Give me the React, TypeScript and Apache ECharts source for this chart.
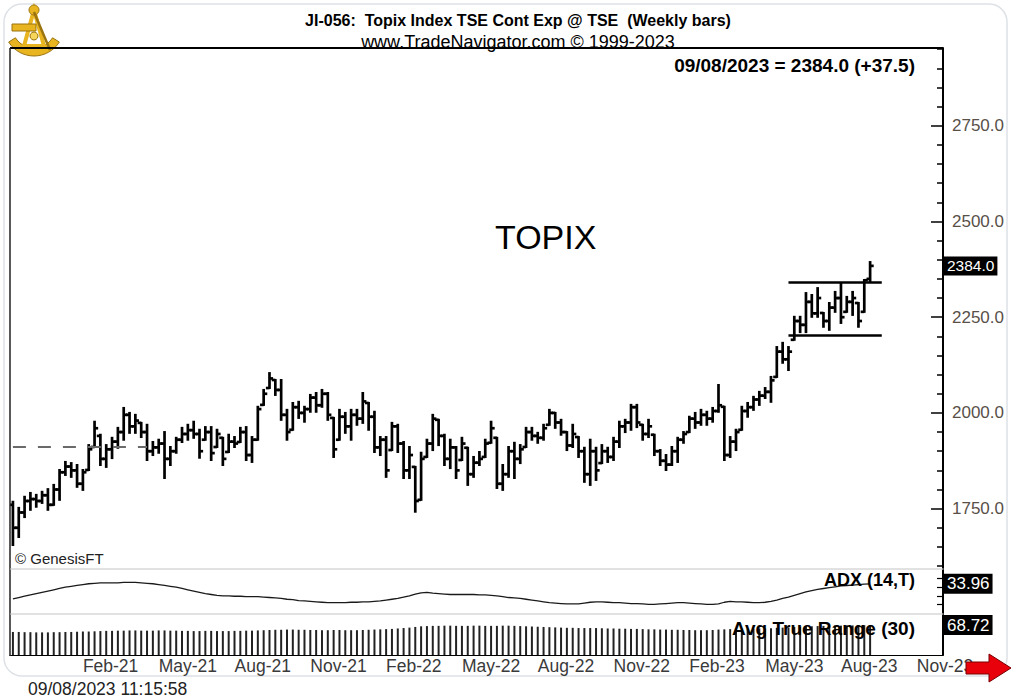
import React, { useEffect, useRef } from "react";
import * as echarts from "echarts";

// ---------- data ----------
const START_DATE_UTC = Date.UTC(2020, 10, 13); // first weekly bar (Friday)
const WEEK_COUNT = 160; // 148 bars + empty future weeks on the axis
const MONTHS = ["Jan", "Feb", "Mar", "Apr", "May", "Jun", "Jul", "Aug", "Sep", "Oct", "Nov", "Dec"];
const LABEL_MONTHS = [2, 5, 8, 11];

const OPEN = [
  1760, 1700, 1740, 1770, 1775, 1770, 1785, 1760, 1800, 1845,
  1860, 1850, 1815, 1851, 1911, 1940, 1880, 1905, 1925, 1950,
  1995, 1965, 1974, 1950, 1900, 1910, 1920, 1880, 1900, 1930,
  1945, 1955, 1945, 1930, 1950, 1911, 1935, 1898, 1925, 1924,
  1950, 1890, 1930, 2021, 2065, 2086, 2060, 1995, 1956, 2015,
  2000, 2010, 2040, 2020, 2050, 1987, 1930, 1990, 1965, 1995,
  1985, 2026, 1990, 1910, 1930, 1903, 1965, 1920, 1850, 1859,
  1773, 1885, 1920, 1982, 1940, 1880, 1910, 1877, 1909, 1840,
  1870, 1885, 1922, 1935, 1815, 1840, 1900, 1880, 1911, 1950,
  1940, 1935, 1969, 2000, 1975, 1950, 1915, 1937, 1900, 1840,
  1900, 1869, 1900, 1885, 1925, 1965, 1975, 2015, 1969, 1945,
  1943, 1900, 1875, 1865, 1900, 1930, 1950, 1985, 1975, 1995,
  1985, 2005, 2016, 1890, 1925, 1956, 2005, 2015, 2035, 2045,
  2055, 2094, 2160, 2140, 2191, 2240, 2230, 2290, 2260, 2261,
  2240, 2275, 2300, 2264, 2290, 2287, 2264, 2350,
];
const HIGH = [
  1768, 1752, 1781, 1791, 1786, 1794, 1801, 1812, 1851, 1872,
  1869, 1864, 1851, 1916, 1977, 1943, 1916, 1935, 1961, 2013,
  2000, 1995, 1974, 1969, 1924, 1930, 1950, 1911, 1935, 1961,
  1969, 1977, 1956, 1963, 1963, 1956, 1935, 1943, 1937, 1961,
  1963, 1937, 2016, 2060, 2104, 2086, 2086, 2008, 2026, 2029,
  2016, 2047, 2052, 2060, 2052, 1987, 2008, 2000, 2008, 2008,
  2052, 2026, 2003, 1937, 1937, 1974, 1969, 1924, 1911, 1859,
  1896, 1930, 1995, 1982, 1943, 1930, 1911, 1935, 1909, 1885,
  1898, 1930, 1977, 1935, 1864, 1911, 1922, 1916, 1961, 1961,
  1948, 1969, 2008, 2000, 1982, 1950, 1969, 1937, 1909, 1930,
  1909, 1916, 1909, 1935, 1977, 1982, 2021, 2021, 1969, 1982,
  1943, 1903, 1890, 1911, 1935, 1950, 1990, 2000, 2008, 2003,
  2013, 2073, 2016, 1937, 1956, 2016, 2026, 2042, 2055, 2065,
  2094, 2172, 2183, 2172, 2251, 2251, 2313, 2308, 2326, 2261,
  2287, 2316, 2339, 2303, 2316, 2287, 2347, 2394,
];
const LOW = [
  1655, 1676, 1728, 1747, 1755, 1765, 1747, 1760, 1773, 1838,
  1833, 1807, 1799, 1851, 1911, 1864, 1859, 1882, 1909, 1930,
  1948, 1948, 1937, 1877, 1890, 1896, 1830, 1864, 1896, 1924,
  1930, 1935, 1883, 1930, 1877, 1911, 1864, 1898, 1911, 1924,
  1877, 1872, 1930, 2021, 2065, 2047, 1982, 1930, 1956, 1987,
  1977, 2003, 2003, 2016, 1982, 1885, 1930, 1948, 1930, 1969,
  1974, 1956, 1898, 1890, 1833, 1903, 1898, 1830, 1830, 1742,
  1773, 1885, 1903, 1916, 1864, 1856, 1830, 1877, 1812, 1833,
  1864, 1885, 1922, 1804, 1799, 1833, 1830, 1869, 1911, 1930,
  1922, 1930, 1969, 1961, 1943, 1903, 1911, 1885, 1820, 1812,
  1825, 1869, 1872, 1877, 1911, 1950, 1956, 1963, 1930, 1937,
  1890, 1864, 1851, 1864, 1872, 1922, 1950, 1961, 1969, 1969,
  1977, 2003, 1877, 1885, 1903, 1956, 1990, 2008, 2021, 2039,
  2029, 2094, 2131, 2112, 2191, 2211, 2211, 2251, 2251, 2225,
  2217, 2264, 2235, 2264, 2256, 2225, 2264, 2342,
];
const CLOSE = [
  1700, 1740, 1770, 1775, 1770, 1785, 1760, 1800, 1845, 1860,
  1850, 1815, 1845, 1905, 1960, 1880, 1905, 1925, 1950, 1995,
  1965, 1980, 1950, 1900, 1910, 1920, 1880, 1900, 1930, 1945,
  1955, 1945, 1900, 1950, 1895, 1945, 1880, 1925, 1920, 1950,
  1890, 1930, 2010, 2050, 2090, 2060, 1995, 1950, 2015, 2000,
  2010, 2040, 2020, 2050, 1995, 1905, 1990, 1965, 1995, 1985,
  2030, 1990, 1910, 1930, 1850, 1965, 1920, 1850, 1890, 1770,
  1880, 1920, 1985, 1940, 1880, 1910, 1850, 1920, 1840, 1870,
  1880, 1920, 1960, 1815, 1840, 1900, 1880, 1905, 1950, 1940,
  1935, 1960, 2000, 1975, 1950, 1915, 1945, 1900, 1840, 1900,
  1850, 1900, 1885, 1925, 1965, 1975, 2015, 1975, 1945, 1965,
  1900, 1875, 1865, 1900, 1930, 1945, 1985, 1975, 1995, 1985,
  2005, 2020, 1890, 1925, 1950, 2005, 2015, 2035, 2045, 2055,
  2085, 2160, 2140, 2160, 2240, 2230, 2290, 2260, 2300, 2240,
  2275, 2300, 2250, 2290, 2300, 2240, 2346.5, 2384,
];
const ADX = [
  16.5, 18, 19.5, 21, 22.5, 24, 25.5, 27, 28.5, 30,
  31, 32, 33, 34, 34.5, 35, 35, 35, 35, 35.5,
  35.5, 35.5, 35, 34.5, 34, 33, 32, 31, 30, 28.5,
  27, 25.5, 24, 22.5, 21.5, 20.5, 20, 20, 19.5, 19.5,
  19, 19, 19, 18.5, 18, 17.5, 17, 16, 15.5, 14.5,
  14, 13.5, 13, 12.5, 12, 12, 12, 12, 12.5, 12.5,
  13, 13, 13.5, 14, 15, 16, 17, 18.5, 20, 22,
  23.5, 24, 23, 22.5, 22, 21.5, 21.5, 21.5, 21.5, 21.5,
  21, 21, 20.5, 20, 19, 18, 17.5, 17, 16, 15,
  14, 13, 12, 11.5, 11, 10.5, 10.5, 10.5, 11.5, 12.5,
  13, 13, 12.5, 12, 12, 11.5, 11, 11, 10.5, 10,
  10, 10.5, 11, 11.5, 12, 12, 11.5, 11, 10.5, 10,
  10, 10.5, 12.5, 13.5, 13, 13, 12.5, 12, 12, 12.5,
  13.5, 15, 17, 18.5, 20.5, 22.5, 24.5, 26, 27.5, 28.5,
  29.5, 30.5, 31.5, 32, 32.5, 33, 33.5, 33.96,
];
const ATR = [
  53, 53, 52.5, 52.5, 52, 52, 52, 52.5, 52.5, 53,
  53, 53.5, 54, 54, 54.5, 55, 55.5, 55.5, 56, 56,
  56.5, 56.5, 56, 56, 56, 56.5, 56.5, 56, 56, 55.5,
  55.5, 55, 55, 55.5, 55.5, 55, 55, 55, 55.5, 55.5,
  56, 56, 56.5, 57, 57.5, 58, 58, 58.5, 58.5, 58,
  58, 57.5, 57.5, 57, 57, 57.5, 57.5, 57, 57, 57,
  57.5, 58, 58.5, 59, 59.5, 60, 61, 62, 63, 64.5,
  66, 66.5, 67, 67, 67.5, 67.5, 67, 67, 67, 67.5,
  67.5, 67, 67, 67, 67.5, 67.5, 67, 66.5, 66, 65.5,
  65, 64.5, 64, 63.5, 63, 62.5, 62.5, 62, 62, 62,
  62, 61.5, 61, 61, 60.5, 60.5, 60, 60, 59.5, 59,
  59, 58.5, 58.5, 58, 58, 57.5, 57.5, 57, 57, 57,
  57.5, 58.5, 59, 59.5, 60, 60, 60.5, 60.5, 61, 61,
  61.5, 62.5, 63, 63.5, 64.5, 65, 65.5, 66, 66.5, 67,
  67, 67.5, 67.5, 68, 68, 68.5, 68.5, 68.72,
];

const PRICE_MAJOR_TICKS = [1750, 2000, 2250, 2500, 2750];
const PRICE_MINOR_TICKS = [
  1600, 1650, 1700, 1800, 1850, 1900, 1950, 2050, 2100, 2150, 2200, 2300, 2350,
  2400, 2450, 2550, 2600, 2650, 2700, 2800, 2850, 2900, 2950,
];
const ADX_TICKS = [10, 20, 30, 40];

const LAST_CLOSE = 2384.0;
const LAST_CHANGE = 37.5;
const LAST_DATE_TEXT = "09/08/2023";
const LAST_ADX = 33.96;
const LAST_ATR = 68.72;
const RANGE_TOP = 2342;
const RANGE_BOTTOM = 2204;
const RANGE_START = 133;
const RANGE_END = 149;
const DASH_LEVEL = 1911;
const DASH_END = 23;

const FONT = '"Liberation Sans", Arial, Helvetica, sans-serif';

function buildDates(): string[] {
  const out: string[] = [];
  for (let i = 0; i < WEEK_COUNT; i++) {
    const d = new Date(START_DATE_UTC + i * 7 * 86400000);
    out.push(d.toISOString().slice(0, 10));
  }
  return out;
}

function txt(text: string, x: number, y: number, font: string, align: string, fill = "#000") {
  return {
    type: "text",
    x,
    y,
    z: 20,
    silent: true,
    style: {
      text,
      font,
      fill,
      textAlign: align,
      align,
      textVerticalAlign: "middle",
      verticalAlign: "middle",
    },
  };
}

export default function App() {
  const ref = useRef<HTMLDivElement>(null);

  useEffect(() => {
    if (!ref.current) return;
    const chart = echarts.init(ref.current, null, { renderer: "svg" });
    const dates = buildDates();
    const ohlc = OPEN.map((o, i) => [i, o, HIGH[i], LOW[i], CLOSE[i]]);

    const gold = "#e8b420";
    const goldDark = "#9a7410";
    const hidden = { color: "rgba(0,0,0,0)", width: 0, type: "solid" };

    const valueBoxLabel = (text: string, size: number) => ({
      show: true,
      position: "end",
      distance: 1,
      formatter: () => text,
      backgroundColor: "#000",
      color: "#fff",
      opacity: 1,
      fontSize: size,
      fontFamily: FONT,
      padding: [2, 3, 1, 3],
    });

    const option: any = {
      animation: false,
      backgroundColor: "#fff",
      grid: [
        { left: 10, right: 69, top: 48, height: 520 },
        { left: 10, right: 69, top: 570, height: 43 },
        { left: 10, right: 69, top: 615, height: 40 },
      ],
      xAxis: [
        { type: "category", gridIndex: 0, data: dates, show: false },
        { type: "category", gridIndex: 1, data: dates, show: false },
        {
          type: "category",
          gridIndex: 2,
          data: dates,
          axisLine: { show: true, lineStyle: { color: "#000", width: 1 } },
          axisTick: { show: false },
          splitLine: { show: false },
          axisLabel: {
            interval: (_idx: number, v: string) => {
              const m = +v.slice(5, 7);
              const d = +v.slice(8, 10);
              return d <= 7 && LABEL_MONTHS.indexOf(m) >= 0;
            },
            formatter: (v: string) => MONTHS[+v.slice(5, 7) - 1] + "-" + v.slice(2, 4),
            align: "left",
            color: "#3a3a3a",
            fontSize: 17.5,
            fontFamily: FONT,
            margin: 2,
          },
        },
      ],
      yAxis: [
        {
          type: "value",
          gridIndex: 0,
          position: "right",
          min: 1595,
          max: 2953,
          axisLine: { show: true, lineStyle: { color: "#000", width: 2 } },
          axisTick: { show: true, inside: true, length: 12, customValues: PRICE_MAJOR_TICKS, lineStyle: { color: "#000", width: 1.5 } },
          axisLabel: {
            customValues: PRICE_MAJOR_TICKS,
            formatter: (v: number) => v.toFixed(1),
            color: "#585048",
            fontSize: 17,
            fontFamily: FONT,
            margin: 9,
          },
          splitLine: { show: false },
        },
        {
          type: "value",
          gridIndex: 0,
          position: "right",
          offset: 0,
          min: 1595,
          max: 2953,
          axisLine: { show: false },
          axisTick: { show: true, inside: true, length: 6, customValues: PRICE_MINOR_TICKS, lineStyle: { color: "#000", width: 1.5 } },
          axisLabel: { show: false },
          splitLine: { show: false },
        },
        {
          type: "value",
          gridIndex: 1,
          position: "right",
          min: 0,
          max: 50,
          axisLine: { show: true, lineStyle: { color: "#000", width: 2 } },
          axisTick: { show: true, inside: true, length: 6, customValues: ADX_TICKS, lineStyle: { color: "#000", width: 1.2 } },
          axisLabel: { show: false },
          splitLine: { show: false },
        },
        {
          type: "value",
          gridIndex: 2,
          position: "right",
          min: 0,
          max: 92,
          axisLine: { show: true, lineStyle: { color: "#000", width: 2 } },
          axisTick: { show: false },
          axisLabel: { show: false },
          splitLine: { show: false },
        },
      ],
      series: [
        {
          type: "custom",
          name: "TOPIX",
          xAxisIndex: 0,
          yAxisIndex: 0,
          data: ohlc,
          encode: { x: 0, y: [1, 2, 3, 4] },
          clip: true,
          renderItem: (_params: any, api: any) => {
            const i = api.value(0);
            const pO = api.coord([i, api.value(1)]);
            const pH = api.coord([i, api.value(2)]);
            const pL = api.coord([i, api.value(3)]);
            const pC = api.coord([i, api.value(4)]);
            const w = 3.6;
            const st = { stroke: "#000", lineWidth: 2.7 };
            return {
              type: "group",
              children: [
                { type: "line", shape: { x1: pH[0], y1: pH[1] - 1, x2: pL[0], y2: pL[1] + 1 }, style: st },
                { type: "line", shape: { x1: pO[0] - w, y1: pO[1], x2: pO[0], y2: pO[1] }, style: st },
                { type: "line", shape: { x1: pC[0], y1: pC[1], x2: pC[0] + w, y2: pC[1] }, style: st },
              ],
            };
          },
        },
        {
          type: "line",
          name: "levels",
          xAxisIndex: 0,
          yAxisIndex: 0,
          data: [],
          silent: true,
          markLine: {
            symbol: "none",
            silent: true,
            animation: false,
            data: [
              [
                { coord: [dates[RANGE_START], RANGE_TOP], lineStyle: { color: "#000", width: 2.5, type: "solid" }, label: { show: false } },
                { coord: [dates[RANGE_END], RANGE_TOP] },
              ],
              [
                { coord: [dates[RANGE_START], RANGE_BOTTOM], lineStyle: { color: "#000", width: 2.5, type: "solid" }, label: { show: false } },
                { coord: [dates[RANGE_END], RANGE_BOTTOM] },
              ],
              [
                { coord: [dates[0], DASH_LEVEL], lineStyle: { color: "#6a6a6a", width: 2, type: [13, 12] }, label: { show: false } },
                { coord: [dates[DASH_END], DASH_LEVEL] },
              ],
            ],
          },
        },
        {
          type: "line",
          name: "last",
          xAxisIndex: 0,
          yAxisIndex: 0,
          data: [],
          silent: true,
          markLine: {
            symbol: "none",
            silent: true,
            lineStyle: hidden,
            label: valueBoxLabel(LAST_CLOSE.toFixed(1), 15.5),
            data: [{ yAxis: LAST_CLOSE }],
          },
        },
        {
          type: "line",
          name: "ADX (14,T)",
          xAxisIndex: 1,
          yAxisIndex: 2,
          data: ADX,
          symbol: "none",
          lineStyle: { color: "#1a1a1a", width: 1.3 },
          markLine: {
            symbol: "none",
            silent: true,
            lineStyle: hidden,
            label: valueBoxLabel(LAST_ADX.toFixed(2), 17),
            data: [{ yAxis: LAST_ADX }],
          },
        },
        {
          type: "bar",
          name: "Avg True Range (30)",
          xAxisIndex: 2,
          yAxisIndex: 3,
          data: ATR,
          barWidth: 2,
          itemStyle: { color: "#222" },
          markLine: {
            symbol: "none",
            silent: true,
            lineStyle: hidden,
            label: valueBoxLabel(LAST_ATR.toFixed(2), 17),
            data: [{ yAxis: LAST_ATR }],
          },
        },
      ],
      graphic: {
        elements: [
          {
            type: "rect",
            z: -10,
            silent: true,
            shape: { x: 4, y: 4, width: 1003, height: 672, r: 18 },
            style: { fill: "none", stroke: "#dde1e6", lineWidth: 1.5 },
          },
          { type: "line", z: 5, silent: true, shape: { x1: 10, y1: 48, x2: 943, y2: 48 }, style: { stroke: "#000", lineWidth: 2 } },
          { type: "line", z: 5, silent: true, shape: { x1: 10, y1: 48, x2: 10, y2: 656 }, style: { stroke: "#222", lineWidth: 1.5 } },
          { type: "line", z: 5, silent: true, shape: { x1: 10, y1: 569, x2: 943, y2: 569 }, style: { stroke: "#c4c4c4", lineWidth: 1 } },
          { type: "line", z: 5, silent: true, shape: { x1: 10, y1: 614, x2: 943, y2: 614 }, style: { stroke: "#c4c4c4", lineWidth: 1 } },
          // logo (sextant)
          {
            type: "group",
            z: 20,
            silent: true,
            children: [
              { type: "sector", shape: { cx: 34, cy: 26, r: 30, r0: 22, startAngle: Math.PI * 0.18, endAngle: Math.PI * 0.82 }, style: { fill: gold, stroke: goldDark, lineWidth: 1 } },
              { type: "polygon", shape: { points: [[34, 10], [44, 46], [24, 46]] }, style: { fill: "none", stroke: gold, lineWidth: 4 } },
              { type: "rect", shape: { x: 12, y: 24, width: 24, height: 7 }, style: { fill: gold, stroke: goldDark, lineWidth: 1 } },
              { type: "circle", shape: { cx: 34, cy: 10, r: 5 }, style: { fill: gold, stroke: goldDark, lineWidth: 1 } },
              { type: "line", shape: { x1: 34, y1: 12, x2: 50, y2: 50 }, style: { stroke: goldDark, lineWidth: 2.5 } },
              { type: "circle", shape: { cx: 34, cy: 36, r: 4 }, style: { fill: "#f6d65a", stroke: goldDark, lineWidth: 1 } },
            ],
          },
          txt("JI-056:  Topix Index TSE Cont Exp @ TSE  (Weekly bars)", 518, 20, `bold 16px ${FONT}`, "center"),
          txt("www.TradeNavigator.com \u00a9 1999-2023", 518, 42, `18px ${FONT}`, "center"),
          txt(`${LAST_DATE_TEXT} = ${LAST_CLOSE.toFixed(1)} (+${LAST_CHANGE.toFixed(1)})`, 915, 65, `bold 19px ${FONT}`, "right"),
          txt("TOPIX", 495, 237, `34px ${FONT}`, "left"),
          txt("\u00a9 GenesisFT", 15, 558, `15px ${FONT}`, "left", "#222"),
          txt("ADX (14,T)", 915, 580, `bold 18px ${FONT}`, "right"),
          txt("Avg True Range (30)", 915, 628, `bold 19px ${FONT}`, "right"),
          txt("09/08/2023 11:15:58", 28, 689, `17.5px ${FONT}`, "left", "#222"),
          {
            type: "polygon",
            z: 30,
            silent: true,
            shape: { points: [[966, 662], [989, 662], [989, 654], [1011, 668], [989, 682], [989, 674], [966, 674]] },
            style: { fill: "#e8000b", stroke: "#7a0000", lineWidth: 1 },
          },
        ],
      },
    };

    chart.setOption(option);
    return () => chart.dispose();
  }, []);

  return (
    <div
      ref={ref}
      style={{ position: "fixed", left: 0, top: 0, width: 1012, height: 698, background: "#fff" }}
    />
  );
}
